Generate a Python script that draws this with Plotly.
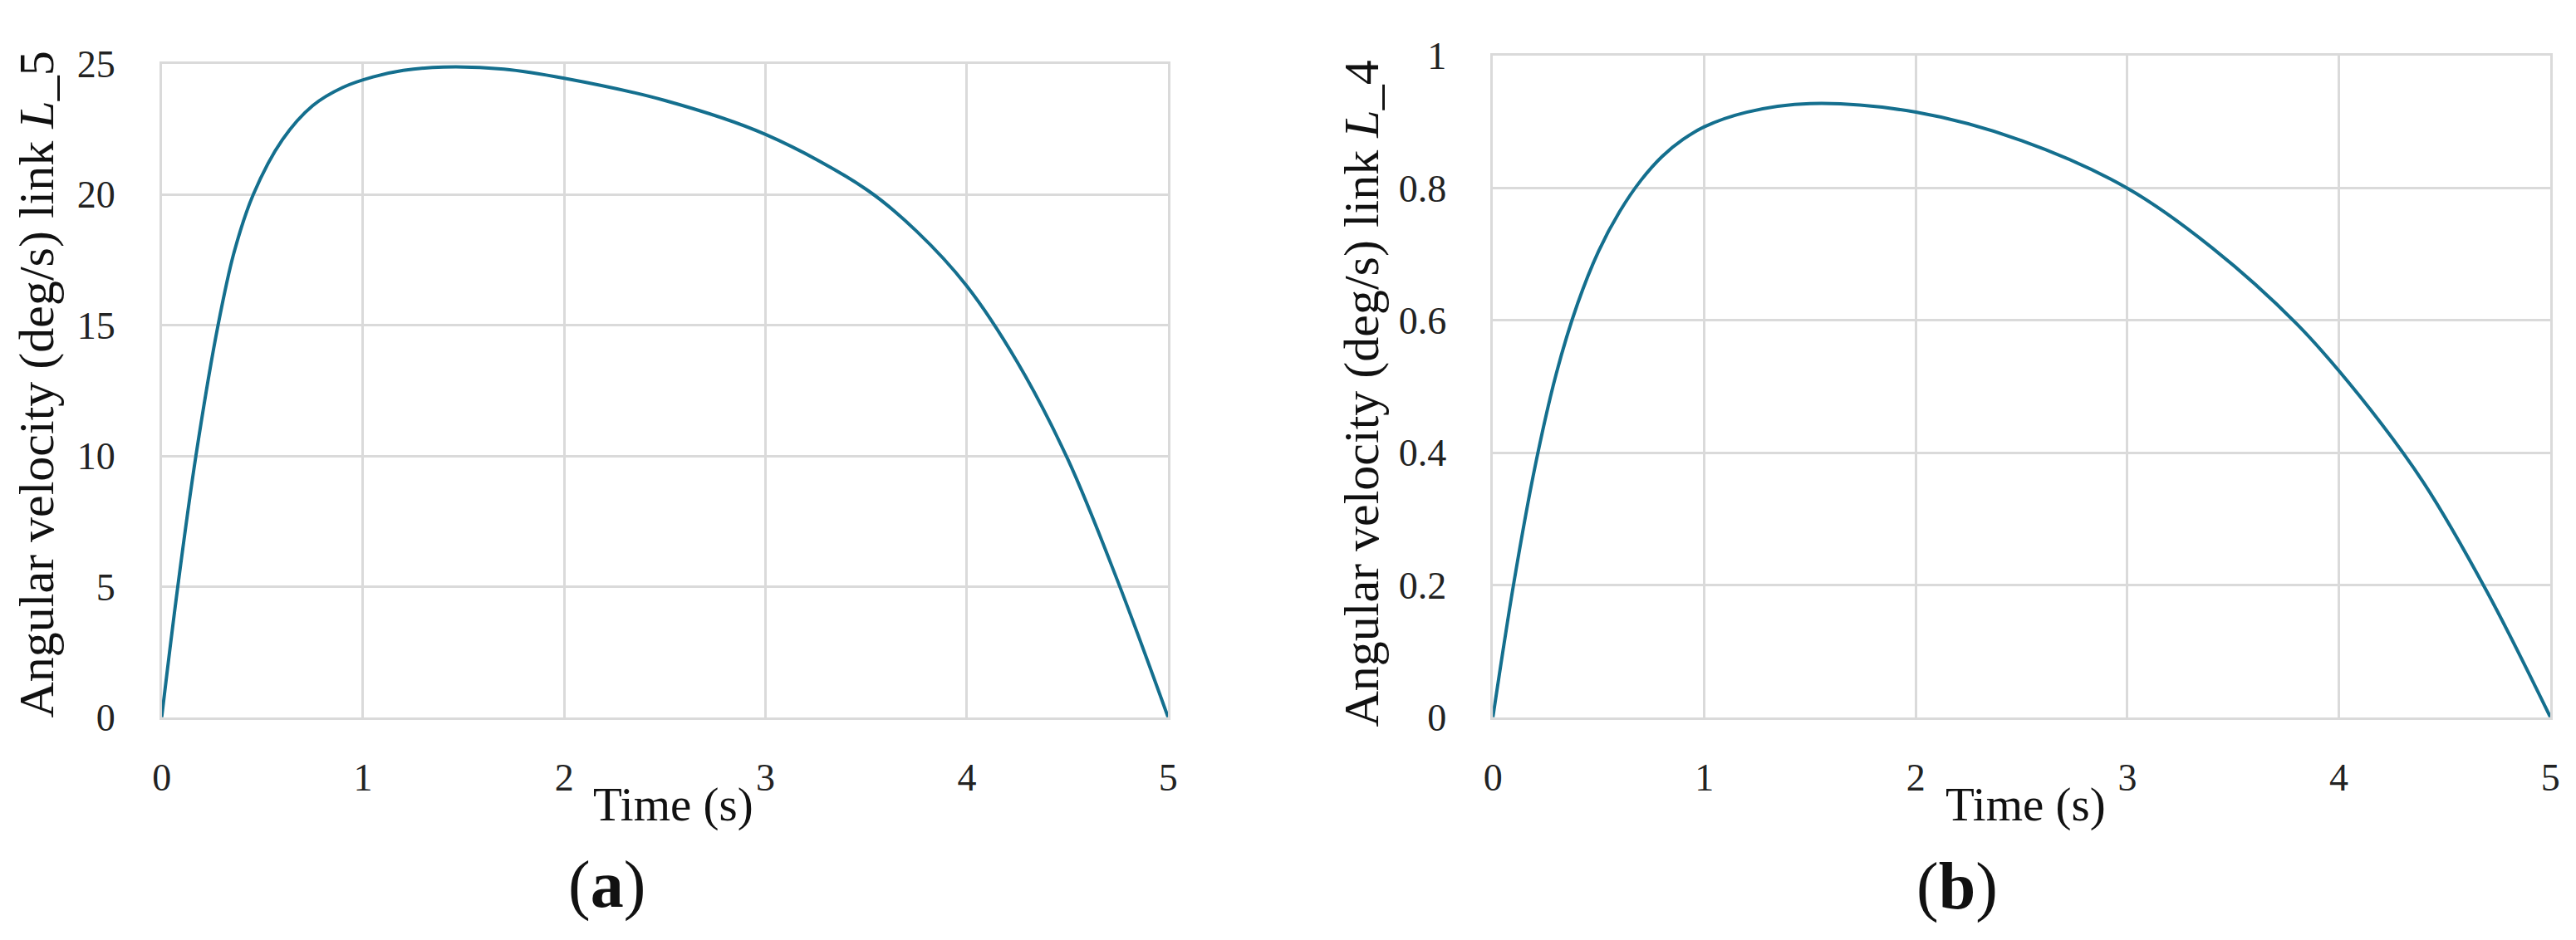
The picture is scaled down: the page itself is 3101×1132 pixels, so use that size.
import plotly.graph_objects as go

W, H = 3101, 1132

# ---------------- DATA ----------------
time_a = [0, 0.08, 0.17, 0.28, 0.36, 0.455, 0.6, 0.75, 0.9, 1.05, 1.2, 1.4, 1.7,
          2.0, 2.5, 3.0, 3.5, 3.75, 4.0, 4.25, 4.5, 4.75, 5.0]
omega_l5 = [0, 5, 10, 15, 17.8, 20, 22.1, 23.4, 24.1, 24.5, 24.75, 24.88, 24.8,
            24.45, 23.6, 22.3, 20.2, 18.6, 16.5, 13.6, 9.9, 5.2, 0]

time_b = [0, 0.1, 0.2, 0.3, 0.4, 0.5, 0.6, 0.7, 0.8, 0.9, 1.0, 1.2, 1.5, 2.0,
          2.5, 3.0, 3.4, 3.8, 4.1, 4.4, 4.7, 5.0]
omega_l4 = [0, 0.205, 0.38, 0.52, 0.625, 0.705, 0.765, 0.812, 0.848, 0.874, 0.893,
            0.915, 0.928, 0.915, 0.872, 0.80, 0.71, 0.595, 0.485, 0.355, 0.19, 0]

x_ticks = [0, 1, 2, 3, 4, 5]
y_ticks_a = [0, 5, 10, 15, 20, 25]
y_ticks_b = [0, 0.2, 0.4, 0.6, 0.8, 1]

FONT = "Palatino Linotype, Book Antiqua, Palatino, Liberation Serif, serif"
LINE = "#146f8e"
GRID = "#dadada"


def px_x(p):
    return p / W


def px_y(p):
    return 1 - p / H


fig = go.Figure()

fig.add_trace(go.Scatter(x=time_a, y=omega_l5, mode="lines", line_shape="spline",
                         line=dict(color=LINE, width=4), xaxis="x", yaxis="y",
                         showlegend=False))
fig.add_trace(go.Scatter(x=time_b, y=omega_l4, mode="lines", line_shape="spline",
                         line=dict(color=LINE, width=4), xaxis="x2", yaxis="y2",
                         showlegend=False))

axis_common = dict(
    showgrid=True, gridcolor=GRID, gridwidth=2.5,
    showline=True, mirror=True, linecolor=GRID, linewidth=2.5,
    zeroline=False, ticks="outside", tickcolor="rgba(0,0,0,0)",
    tickfont=dict(family=FONT, size=46, color="#222222"),
)

fig.update_layout(
    width=W, height=H, autosize=False,
    margin=dict(l=0, r=0, t=0, b=0),
    paper_bgcolor="white", plot_bgcolor="white",
    font=dict(family=FONT, color="#111111"),
    xaxis=dict(domain=[px_x(176), px_x(1397)], range=[0, 5], tickvals=x_ticks,
               anchor="y", ticklen=30, **axis_common),
    yaxis=dict(domain=[px_y(870), px_y(46)], range=[0, 25], tickvals=y_ticks_a,
               anchor="x", ticklen=44, **axis_common),
    xaxis2=dict(domain=[px_x(1791), px_x(3074)], range=[0, 5], tickvals=x_ticks,
                anchor="y2", ticklen=30, **axis_common),
    yaxis2=dict(domain=[px_y(870), px_y(36)], range=[0, 1], tickvals=y_ticks_b,
                anchor="x2", ticklen=44, **axis_common),
)

annotations = [
    # axis titles
    dict(text="Angular velocity (deg/s) link <i>L</i>_5", x=px_x(24), y=px_y(450),
         textangle=-90, font=dict(size=60)),
    dict(text="Angular velocity (deg/s) link <i>L</i>_4", x=px_x(1632), y=px_y(462),
         textangle=-90, font=dict(size=60)),
    dict(text="Time (s)", x=px_x(797), y=px_y(980), font=dict(size=57)),
    dict(text="Time (s)", x=px_x(2437), y=px_y(980), font=dict(size=57)),
    # panel labels
    dict(text="(<b>a</b>)", x=px_x(716), y=px_y(1081), font=dict(size=80)),
    dict(text="(<b>b</b>)", x=px_x(2354), y=px_y(1083), font=dict(size=80)),
]
for a in annotations:
    a.update(xref="paper", yref="paper", showarrow=False,
             xanchor="center", yanchor="middle")
    a["font"].update(family=FONT, color="#111111")

fig.update_layout(annotations=annotations)

fig.write_html("out.html")
